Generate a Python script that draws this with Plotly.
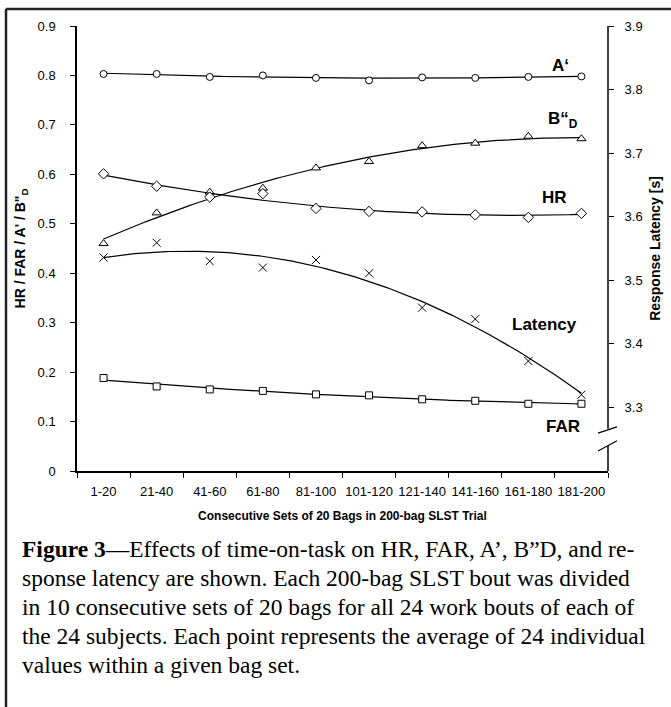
import numpy as np
import plotly.graph_objects as go

# ---------------- data ----------------
categories = ["1-20", "21-40", "41-60", "61-80", "81-100", "101-120",
              "121-140", "141-160", "161-180", "181-200"]
a_prime = [0.803, 0.803, 0.797, 0.800, 0.795, 0.790, 0.796, 0.795, 0.797, 0.798]
b_dd = [0.460, 0.522, 0.564, 0.572, 0.613, 0.626, 0.658, 0.663, 0.677, 0.672]
hr = [0.601, 0.576, 0.554, 0.561, 0.531, 0.525, 0.524, 0.518, 0.513, 0.521]
far = [0.188, 0.171, 0.165, 0.162, 0.155, 0.153, 0.145, 0.142, 0.136, 0.136]
latency = [3.536, 3.559, 3.530, 3.520, 3.532, 3.511, 3.457, 3.439, 3.373, 3.320]
left_ticks = [0, 0.1, 0.2, 0.3, 0.4, 0.5, 0.6, 0.7, 0.8, 0.9]
right_ticks = [3.3, 3.4, 3.5, 3.6, 3.7, 3.8, 3.9]

caption_lines = [
    "<b>Figure 3</b>\u2014Effects of time-on-task on HR, FAR, A\u2019, B\u201dD, and re-",
    "sponse latency are shown. Each 200-bag SLST bout was divided",
    "in 10 consecutive sets of 20 bags for all 24 work bouts of each of",
    "the 24 subjects. Each point represents the average of 24 individual",
    "values within a given bag set.",
]

# ---------------- figure ----------------
W, H = 671, 707
L, R, T, B = 77, 63, 26, 236
x = np.arange(1, len(categories) + 1)
xs = np.linspace(1, len(categories), 200)

fig = go.Figure()

def add_series(vals, symbol, size, yaxis="y"):
    coef = np.polyfit(x, vals, 2)
    fig.add_trace(go.Scatter(x=xs, y=np.polyval(coef, xs), mode="lines",
                             line=dict(color="black", width=1.2),
                             yaxis=yaxis, showlegend=False, hoverinfo="skip"))
    fig.add_trace(go.Scatter(x=x, y=vals, mode="markers", yaxis=yaxis,
                             marker=dict(symbol=symbol, size=size, color="white",
                                         line=dict(color="black", width=1)),
                             showlegend=False))

add_series(a_prime, "circle", 7)
add_series(b_dd, "triangle-up", 8)
add_series(hr, "diamond", 8)
add_series(far, "square", 7)
# latency on right axis
coef = np.polyfit(x, latency, 2)
fig.add_trace(go.Scatter(x=xs, y=np.polyval(coef, xs), mode="lines", yaxis="y2",
                         line=dict(color="black", width=1.2), showlegend=False))
fig.add_trace(go.Scatter(x=x, y=latency, mode="markers", yaxis="y2",
                         marker=dict(symbol="x-thin-open", size=8, color="black",
                                     line=dict(color="black", width=1)),
                         showlegend=False))

tickfont = dict(family="Liberation Sans, Arial", size=13, color="black")

fig.update_layout(
    width=W, height=H,
    margin=dict(l=L, r=R, t=T, b=B),
    paper_bgcolor="white", plot_bgcolor="white",
    font=dict(family="Liberation Sans, Arial", color="black"),
    xaxis=dict(range=[0.5, 10.5], tickmode="array", tickvals=list(x),
               ticktext=categories, ticks="", showgrid=False, zeroline=False,
               showline=True, linecolor="black", linewidth=1.5,
               tickfont=dict(family="Liberation Sans, Arial", size=13, color="black"),
               ticklabelstandoff=8,
               minor=dict(tickvals=list(np.arange(0.5, 11, 1.0)), ticks="outside",
                          ticklen=5, tickwidth=1.2, tickcolor="black"),
               title=dict(text="<b>Consecutive Sets of 20 Bags in 200-bag SLST Trial</b>",
                          font=dict(size=12), standoff=13)),
    yaxis=dict(range=[0, 0.9], tickvals=left_ticks,
               ticktext=[("0" if v == 0 else f"{v:.1f}") for v in left_ticks],
               ticks="outside", ticklen=5, tickwidth=1.2, tickcolor="black",
               showgrid=False, zeroline=False, showline=True, linecolor="black",
               linewidth=1.5, tickfont=tickfont, ticklabelstandoff=12,
               title=dict(text="<b>HR / FAR / A' / B\"<sub>D</sub></b>",
                          font=dict(size=14), standoff=9)),
    yaxis2=dict(range=[3.2, 3.9], overlaying="y", side="right",
                tickvals=right_ticks, ticktext=[f"{v:.1f}" for v in right_ticks],
                ticks="outside", ticklen=5, tickwidth=1.2, tickcolor="black",
                showgrid=False, zeroline=False, showline=False,
                tickfont=tickfont, ticklabelstandoff=8,
                title=dict(text="<b>Response Latency [s]</b>", font=dict(size=14),
                           standoff=8)),
)

# right axis line with break
fig.add_shape(type="line", xref="paper", yref="paper", x0=1, x1=1, y0=0.095, y1=1,
              line=dict(color="black", width=1.5))
fig.add_shape(type="line", xref="paper", yref="paper", x0=1, x1=1, y0=0, y1=0.056,
              line=dict(color="black", width=1.5))
pw = (W - L - R)
for y0, y1 in [(0.085, 0.099), (0.045, 0.068)]:
    fig.add_shape(type="line", xref="paper", yref="paper",
                  x0=1 - 10 / pw, x1=1 + 9 / pw, y0=y0, y1=y1,
                  line=dict(color="black", width=1.2))

# series labels
lab = dict(family="Liberation Sans, Arial", size=17, color="black")
labels = [("<b>A\u2018</b>", 0.82, "y"), ("<b>B\u201c<sub>D</sub></b>", 0.71, "y"),
          ("<b>HR</b>", 0.553, "y"), ("<b>Latency</b>", 3.43, "y2"),
          ("<b>FAR</b>", 0.09, "y")]
xpos = [9.6, 9.65, 9.5, 9.3, 9.65]
for (t, yv, yr), xv in zip(labels, xpos):
    fig.add_annotation(text=t, x=xv, y=yv, xref="x", yref=yr, showarrow=False,
                       font=lab, xanchor="center")

# frame lines
fig.add_shape(type="line", xref="paper", yref="paper",
              x0=-(L - 6) / pw, x1=(W - L) / pw, y0=1 + (T - 9) / (H - T - B),
              y1=1 + (T - 9) / (H - T - B), line=dict(color="#222", width=2.5))
fig.add_shape(type="line", xref="paper", yref="paper",
              x0=-(L - 6) / pw, x1=-(L - 6) / pw, y0=1 + (T - 9) / (H - T - B),
              y1=-(B) / (H - T - B), line=dict(color="#222", width=2.5))

# caption
ph = H - T - B
for i, line in enumerate(caption_lines):
    ypx = 549 + i * 29
    fig.add_annotation(text=line, xref="paper", yref="paper",
                       x=-(L - 20) / pw, y=1 - (ypx - T) / ph,
                       xanchor="left", yanchor="middle", showarrow=False,
                       font=dict(family="Liberation Serif, Times New Roman", size=23.5,
                                 color="black"))

fig.write_html("out.html")
